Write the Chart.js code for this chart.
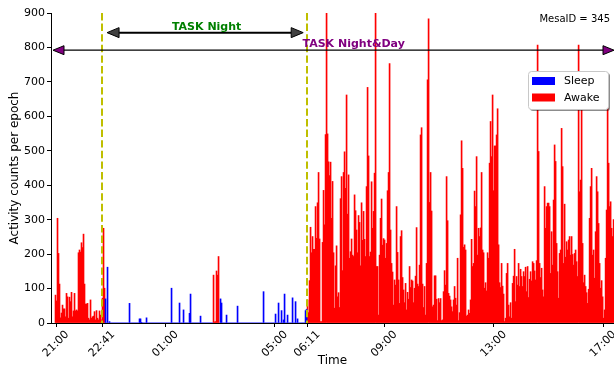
<!DOCTYPE html>
<html>
<head>
<meta charset="utf-8">
<script src="https://cdn.jsdelivr.net/npm/chart.js@4.4.1/dist/chart.umd.min.js"></script>
<style>
  html, body { margin: 0; padding: 0; background: #fff; }
</style>
</head>
<body>
<canvas id="actividad" width="614" height="368"></canvas>
<script>
// primer bin: minutos despues de las 21:00, y ancho de cada bin en minutos
const FIRST_BIN = -1.1;
const BIN_MIN = 2.194;

// cuentas de actividad por epoca (tarde, noche, dia)
const eveningCounts = [
  81, 64, 304, 202, 113, 15, 29, 52, 41, 41, 18, 86, 76, 14, 75, 62, 89, 18, 35, 86,
  35, 38, 35, 204, 212, 206, 233, 219, 258, 113, 55, 55, 57, 14, 9, 67, 14, 18, 20, 33,
  9, 36, 14, 9, 35, 23, 9, 72, 275, 101
];
const nightCounts = [
  70, 0, 162, 0, 4, 0, 0, 0, 0, 0, 0, 0, 0, 0, 0, 0, 0, 0, 0, 0,
  0, 0, 0, 0, 57, 0, 0, 0, 0, 0, 0, 0, 0, 0, 12, 12, 2, 0, 0, 0,
  0, 15, 0, 0, 0, 0, 0, 0, 0, 0, 0, 0, 0, 0, 0, 0, 0, 0, 0, 0,
  0, 0, 0, 0, 0, 0, 101, 0, 0, 0, 0, 0, 0, 0, 58, 0, 0, 0, 38, 0,
  0, 0, 0, 0, 28, 84, 0, 0, 0, 0, 0, 0, 0, 0, 0, 20, 0, 0, 0, 0,
  0, 0, 0, 0, 0, 0, 0, 0, 139, 3, 4, 151, 139, 193, 0, 70, 58, 0, 0, 0,
  0, 23, 0, 0, 0, 0, 0, 0, 0, 0, 0, 0, 49, 0, 0, 0, 0, 0, 0, 0,
  0, 0, 0, 0, 0, 0, 0, 0, 0, 0, 0, 0, 0, 0, 0, 0, 0, 0, 91, 0,
  0, 0, 0, 0, 0, 0, 0, 0, 0, 0, 26, 0, 0, 58, 0, 0, 36, 0, 9, 84,
  0, 0, 23, 0, 0, 0, 0, 73, 0, 0, 62, 0, 12, 0, 0, 0, 0, 0, 0, 0,
  36, 40
];
const dayCounts = [
  67, 30,
  123, 278, 204, 251, 214, 214, 338, 246, 349, 437, 244, 4, 4, 234, 385, 285, 547, 900, 549, 468,
  428, 467, 304, 411, 204, 43, 166, 224, 76, 88, 45, 361, 425, 152, 437, 497, 391, 662, 316, 430,
  188, 207, 244, 197, 193, 372, 326, 270, 204, 312, 292, 166, 349, 240, 324, 243, 193, 396, 684, 485,
  193, 206, 410, 275, 324, 435, 900, 164, 164, 23, 197, 304, 360, 226, 245, 241, 188, 231, 384, 437,
  753, 270, 173, 148, 52, 125, 110, 338, 205, 125, 57, 251, 268, 132, 96, 59, 115, 38, 89,
  69, 164, 103, 125, 122, 59, 101, 136, 277, 113, 106, 168, 546, 567, 113, 45, 106, 23, 173, 706,
  883, 350, 437, 325, 47, 52, 137, 137, 69, 7, 71, 59, 71, 7, 9, 91, 152, 110, 425, 297,
  86, 78, 67, 47, 33, 67, 106, 72, 52, 188, 7, 30, 314, 529, 449, 220, 227, 212, 20, 23,
  38, 28, 67, 243, 164, 173, 383, 338, 483, 197, 275, 251, 276, 437, 212, 204, 101, 117, 93, 204,
  188, 464, 585, 483, 662, 384, 514, 514, 546, 622, 227, 117, 103, 173, 107, 84, 4, 14, 144, 173,
  52, 18, 59, 14,
  115, 136, 214, 62, 135, 110, 173, 106, 156, 135, 106, 149, 135, 162, 91, 164, 74, 127, 149, 122,
  178, 173, 151, 125, 181, 807, 498, 173, 132, 159, 96, 76, 396, 275, 338, 348, 348, 338, 144, 265,
  168, 357, 517, 469, 231, 149, 72, 202, 212, 565, 454, 173, 345, 191, 236, 212, 241, 251, 197, 251,
  199, 168, 202, 212, 178, 135, 807, 381, 415, 667, 231, 117, 139, 106, 88, 57, 98, 304, 396, 449,
  197, 212, 130, 265, 425, 381, 289, 173, 101, 123, 76, 14, 38, 188, 328, 640, 464, 338, 352, 275,
  251, 300
];

const SLEEP_BOUTS = [['22:47', '02:44'], ['02:59', '06:11']];
const TASK_NIGHT = ['22:41', '06:11'];
const TICK_LABELS = ['21:00', '22:41', '01:00', '05:00', '06:11', '09:00', '13:00', '17:00'];
const X_MIN = -11, X_MAX = 1224;
const Y_MAX = 900;
const NIGHT_ARROW_Y = 843;
const DAY_ARROW_Y = 792;
const DAY_LABEL_AT = '07:53';
const MESA_ID = 345;

const FONT = '"DejaVu Sans", sans-serif';

// minutos despues de las 21:00
function toMin(hhmm) {
  const [h, m] = hhmm.split(':').map(Number);
  return ((h * 60 + m) - 21 * 60 + 1440) % 1440;
}

const counts = eveningCounts.concat(nightCounts, dayCounts);
const times = counts.map((_, i) => FIRST_BIN + i * BIN_MIN);
const dormido = t => SLEEP_BOUTS.some(([a, b]) => t >= toMin(a) && t < toMin(b));

const sleepData = counts.map((c, i) => ({ x: times[i], y: dormido(times[i]) ? c : null }));
const awakeData = counts.map((c, i) => ({ x: times[i], y: dormido(times[i]) ? null : c }));

function flecha(ctx, x1, x2, y, fill, lw, hl, hw) {
  ctx.save();
  ctx.strokeStyle = '#000';
  ctx.lineWidth = lw;
  ctx.beginPath();
  ctx.moveTo(x1 + hl, y);
  ctx.lineTo(x2 - hl, y);
  ctx.stroke();
  [[x1, 1], [x2, -1]].forEach(([tx, d]) => {
    ctx.beginPath();
    ctx.moveTo(tx, y);
    ctx.lineTo(tx + d * hl, y - hw / 2);
    ctx.lineTo(tx + d * hl, y + hw / 2);
    ctx.closePath();
    ctx.fillStyle = fill;
    ctx.fill();
    ctx.lineWidth = 1;
    ctx.stroke();
  });
  ctx.restore();
}

const anotaciones = {
  id: 'anotaciones',
  afterDatasetsDraw(chart) {
    const { ctx, chartArea: area, scales: { x, y } } = chart;
    ctx.save();
    // lineas de la tarea nocturna
    ctx.strokeStyle = '#bfbf00';
    ctx.lineWidth = 2;
    ctx.setLineDash([7.4, 3.2]);
    TASK_NIGHT.forEach(t => {
      const px = Math.round(x.getPixelForValue(toMin(t)));
      ctx.beginPath();
      ctx.moveTo(px, area.top);
      ctx.lineTo(px, area.bottom);
      ctx.stroke();
    });
    ctx.setLineDash([]);

    const n1 = x.getPixelForValue(toMin(TASK_NIGHT[0]));
    const n2 = x.getPixelForValue(toMin(TASK_NIGHT[1]));
    const ny = y.getPixelForValue(NIGHT_ARROW_Y);
    flecha(ctx, n1 + 5, n2 - 4, ny, '#404040', 2, 12, 10);
    ctx.font = 'bold 11px ' + FONT;
    ctx.fillStyle = '#008000';
    ctx.textAlign = 'center';
    ctx.textBaseline = 'alphabetic';
    ctx.fillText('TASK Night', (n1 + n2) / 2 + 2, ny - 3);

    const dy = y.getPixelForValue(DAY_ARROW_Y);
    flecha(ctx, area.left + 2, area.right, dy, '#800080', 1.3, 11, 9);
    ctx.fillStyle = '#800080';
    ctx.fillText('TASK Night&Day', x.getPixelForValue(toMin(DAY_LABEL_AT)), dy - 3);

    ctx.font = '10px ' + FONT;
    ctx.fillStyle = '#000';
    ctx.textAlign = 'right';
    ctx.textBaseline = 'middle';
    ctx.fillText('MesaID = ' + MESA_ID, area.right - 4, 19);
    ctx.restore();
  },
  afterDraw(chart) {
    const { ctx, chartArea: area, scales: { x } } = chart;
    ctx.save();
    // etiquetas de hora, giradas y centradas en la marca
    ctx.font = '11px ' + FONT;
    ctx.fillStyle = '#000';
    ctx.textAlign = 'center';
    ctx.textBaseline = 'middle';
    TICK_LABELS.forEach(l => {
      ctx.save();
      ctx.translate(x.getPixelForValue(toMin(l)), area.bottom + 21);
      ctx.rotate(-Math.PI / 4);
      ctx.fillText(l, 0, 0);
      ctx.restore();
    });

    // leyenda
    const lx = area.right - 86, ly = 71, lw = 80, lh = 38;
    ctx.fillStyle = 'rgba(0,0,0,0.45)';
    ctx.beginPath();
    ctx.roundRect(lx + 2, ly + 2, lw, lh, 3);
    ctx.fill();
    ctx.fillStyle = '#fff';
    ctx.strokeStyle = '#c8c8c8';
    ctx.lineWidth = 1;
    ctx.beginPath();
    ctx.roundRect(lx + 0.5, ly + 0.5, lw, lh, 3);
    ctx.fill();
    ctx.stroke();
    ctx.font = '11px ' + FONT;
    ctx.textAlign = 'left';
    ctx.textBaseline = 'middle';
    chart.data.datasets.forEach((ds, i) => {
      const cy = ly + 10 + i * 16.5;
      ctx.fillStyle = ds.backgroundColor;
      ctx.fillRect(lx + 4, cy - 4, 23, 8);
      ctx.fillStyle = '#000';
      ctx.fillText(ds.label, lx + 36, cy + 0.5);
    });
    ctx.restore();
  }
};

const ejes = {
  grid: { display: true, offset: false, drawOnChartArea: false, drawTicks: true, tickLength: 4, color: '#000' },
  border: { display: true, color: '#000', width: 1 }
};

new Chart(document.getElementById('actividad'), {
  type: 'bar',
  data: {
    datasets: [
      { label: 'Sleep', data: sleepData, backgroundColor: '#0000ff', grouped: false,
        barPercentage: 1, categoryPercentage: 1, borderWidth: 0 },
      { label: 'Awake', data: awakeData, backgroundColor: '#ff0000', grouped: false,
        barPercentage: 1, categoryPercentage: 1, borderWidth: 0 }
    ]
  },
  options: {
    responsive: false,
    animation: false,
    devicePixelRatio: 1,
    layout: { padding: { top: 13, right: 0, bottom: 0, left: 0 } },
    plugins: { legend: { display: false }, tooltip: { enabled: false } },
    scales: {
      x: {
        type: 'linear',
        min: X_MIN,
        max: X_MAX,
        offset: false,
        afterBuildTicks: s => { s.ticks = TICK_LABELS.map(l => ({ value: toMin(l) })); },
        afterFit: s => { s.height = 45; s.paddingLeft = 0; s.paddingRight = 0; },
        ticks: { display: false },
        ...ejes,
        title: { display: true, text: 'Time', color: '#000', font: { family: FONT, size: 12 }, padding: 0 }
      },
      y: {
        min: 0,
        max: Y_MAX,
        afterFit: s => { s.width = 51; },
        ticks: { stepSize: 100, color: '#000', font: { family: FONT, size: 11 }, padding: 2 },
        ...ejes,
        title: { display: true, text: 'Activity counts per epoch', color: '#000',
          font: { family: FONT, size: 12 }, padding: { top: 8, bottom: 0 } }
      }
    }
  },
  plugins: [anotaciones]
});
</script>
</body>
</html>
